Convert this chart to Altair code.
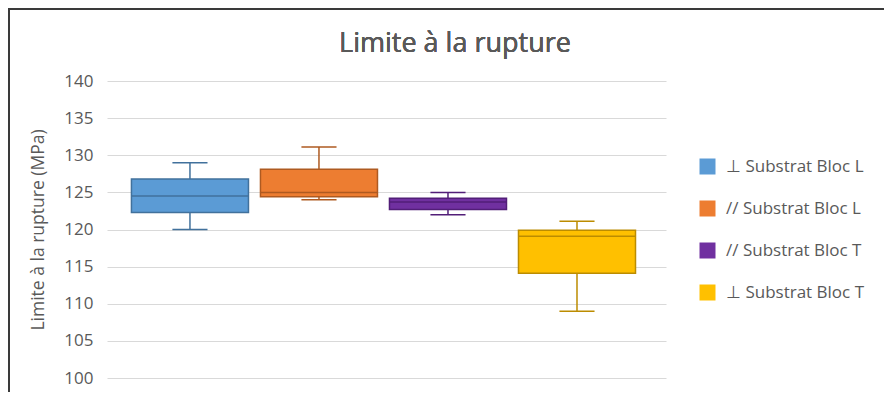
import altair as alt
import pandas as pd

series = ["⊥ Substrat Bloc L", "// Substrat Bloc L", "// Substrat Bloc T", "⊥ Substrat Bloc T"]
whisker_low = [120.0, 124.0, 122.0, 109.0]
q1 = [122.3, 124.4, 122.7, 114.1]
median = [124.5, 125.0, 123.7, 119.1]
q3 = [126.8, 128.1, 124.2, 119.9]
whisker_high = [129.0, 131.1, 125.0, 121.1]
y_ticks = [100, 105, 110, 115, 120, 125, 130, 135, 140]

fill_colors = ["#5B9BD5", "#ED7D31", "#7030A0", "#FFC000"]
line_colors = ["#41719C", "#AE5A21", "#521E78", "#BC8C00"]

df = pd.DataFrame({
    "series": series, "lo": whisker_low, "q1": q1, "med": median,
    "q3": q3, "hi": whisker_high, "line": line_colors,
})

FONT = "Open Sans"
GRAY = "#595959"

xscale = alt.Scale(paddingInner=0.093, paddingOuter=0.213, align=0.445)


def xpos(bp):
    return alt.X("series:N", sort=series, scale=xscale, axis=None, bandPosition=bp)


def x2pos(bp):
    return alt.X2("series:N", bandPosition=bp)


y_scale = alt.Scale(domain=[100, 140], nice=False)
y_axis = alt.Axis(values=y_ticks, title="Limite à la rupture (MPa)",
                  domain=False, ticks=False, gridColor="#D9D9D9", labelOverlap=False,
                  labelColor=GRAY, labelFontSize=17, labelFont=FONT,
                  labelPadding=14, titleColor=GRAY, titleFontSize=17.5,
                  titleFont=FONT, titleFontWeight="normal", titlePadding=16)


def ypos(field):
    return alt.Y(f"{field}:Q", scale=y_scale, axis=y_axis)


line_stroke = alt.Stroke("line:N", scale=None)
fill_color = alt.Fill("series:N", sort=series,
                      scale=alt.Scale(domain=series, range=fill_colors),
                      legend=alt.Legend(title=None, orient="none", legendX=592, legendY=77,
                                        symbolType="square", symbolSize=256,
                                        symbolStrokeWidth=0, labelFontSize=17,
                                        labelColor=GRAY, labelFont=FONT, rowPadding=24,
                                        labelOffset=10))

base = alt.Chart(df)

whisker = base.mark_rule(strokeWidth=1.5).encode(
    x=xpos(0.5), y=ypos("lo"), y2="hi:Q", stroke=line_stroke)

cap_lo = base.mark_rule(strokeWidth=1.5).encode(
    x=xpos(0.35), x2=x2pos(0.65), y=ypos("lo"), stroke=line_stroke)
cap_hi = base.mark_rule(strokeWidth=1.5).encode(
    x=xpos(0.35), x2=x2pos(0.65), y=ypos("hi"), stroke=line_stroke)

box = base.mark_bar(opacity=1, strokeWidth=1.5).encode(
    x=xpos(0.5), y=ypos("q1"), y2="q3:Q", fill=fill_color, stroke=line_stroke)

med_line = base.mark_rule(strokeWidth=1.5).encode(
    x=xpos(0), x2=x2pos(1), y=ypos("med"), stroke=line_stroke)

title = base.mark_text(fontSize=27, font=FONT, color=GRAY, align="center",
                       baseline="alphabetic").encode(
    x=alt.value(348), y=alt.value(-29), text=alt.value("Limite à la rupture"))

frame_left = base.mark_rule(color="#3A3A3A", strokeWidth=2).encode(
    x=alt.value(-98), y=alt.value(-72), y2=alt.value(330))
frame_top = base.mark_rule(color="#3A3A3A", strokeWidth=2).encode(
    x=alt.value(-99), x2=alt.value(780), y=alt.value(-72))

chart = alt.layer(whisker, cap_lo, cap_hi, box, med_line, title, frame_left, frame_top).properties(
    width=559, height=297,
    autosize=alt.AutoSizeParams(type="none"),
    padding={"left": 99, "top": 73, "right": 218, "bottom": 14},
).configure_view(stroke=None)

chart.save("out.html", embed_options={"renderer": "svg", "actions": False})
